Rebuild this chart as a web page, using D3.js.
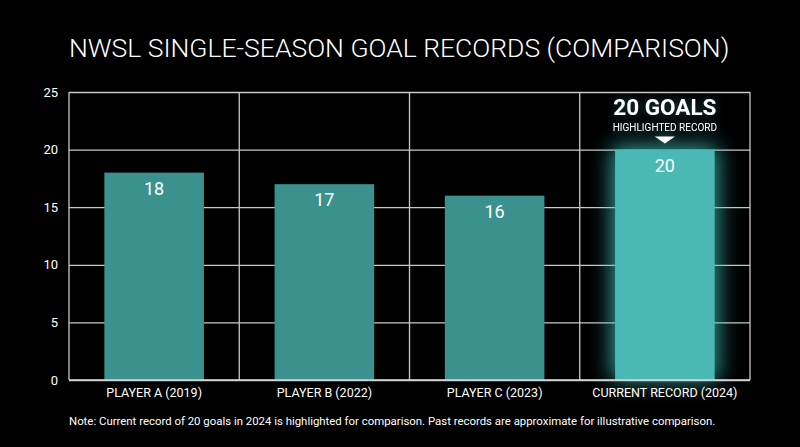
<!DOCTYPE html>
<html>
<head>
<meta charset="utf-8">
<script src="https://cdn.jsdelivr.net/npm/d3@7"></script>
<style>
  html, body { margin: 0; padding: 0; background: #000; }
  svg { display: block; font-family: Roboto, "Liberation Sans", Arial, sans-serif; }
</style>
</head>
<body>
<div class="bar-chart"></div>
<script>
// chart data
const categories = ["PLAYER A (2019)", "PLAYER B (2022)", "PLAYER C (2023)", "CURRENT RECORD (2024)"];
const goals = [18, 17, 16, 20];
const highlighted = ["CURRENT RECORD (2024)"];
const yTicks = [0, 5, 10, 15, 20, 25];
const titleText = "NWSL SINGLE-SEASON GOAL RECORDS (COMPARISON)";
const calloutText = "20 GOALS";
const calloutSub = "HIGHLIGHTED RECORD";
const noteText = "Note: Current record of 20 goals in 2024 is highlighted for comparison. Past records are approximate for illustrative comparison.";

// set the dimensions and margins of the graph
var margin = {top: 92, right: 50, bottom: 67, left: 69},
    width = 800 - margin.left - margin.right,
    height = 447 - margin.top - margin.bottom;

var data = categories.map(function(c, i) { return {cat: c, value: goals[i]}; });

// set the ranges
var x = d3.scaleBand().domain(categories).range([0, width]).paddingInner(0).paddingOuter(0);
var y = d3.scaleLinear().domain([0, 25]).range([height, 0]);
var barW = x.bandwidth() * 0.585;

var root = d3.select(".bar-chart").append("svg")
    .attr("width", 800)
    .attr("height", 447);

root.append("rect").attr("width", 800).attr("height", 447).attr("fill", "#000");

// glow filters
var defs = root.append("defs");
var glow = defs.append("filter").attr("id", "glow")
    .attr("x", "-50%").attr("y", "-30%").attr("width", "200%").attr("height", "160%");
glow.append("feGaussianBlur").attr("in", "SourceGraphic").attr("stdDeviation", 11);

var tglow = defs.append("filter").attr("id", "tglow")
    .attr("x", "-30%").attr("y", "-60%").attr("width", "160%").attr("height", "220%");
tglow.append("feGaussianBlur").attr("in", "SourceAlpha").attr("stdDeviation", 5).attr("result", "a");
tglow.append("feFlood").attr("flood-color", "#2f8f8c").attr("flood-opacity", 0.5);
tglow.append("feComposite").attr("in2", "a").attr("operator", "in").attr("result", "g");
var tm = tglow.append("feMerge");
tm.append("feMergeNode").attr("in", "g");
tm.append("feMergeNode").attr("in", "SourceGraphic");

// title
root.append("text")
    .attr("x", margin.left)
    .attr("y", 57)
    .attr("fill", "#fff")
    .style("font-size", "26.5px")
    .style("font-weight", 300)
    .text(titleText);

var svg = root.append("g")
    .attr("transform", "translate(" + margin.left + "," + margin.top + ")");

// horizontal grid
svg.append("g")
    .attr("class", "y-grid")
    .call(d3.axisLeft(y).tickValues(yTicks).tickSize(-width).tickFormat(""))
    .call(function(g) { g.select(".domain").remove(); })
    .selectAll("line")
    .attr("stroke", "#c8c8c8")
    .attr("stroke-width", 1.3);

// vertical grid at band edges
var edges = categories.map(function(c) { return x(c); }).concat([width]);
svg.append("g").selectAll("line")
    .data(edges)
    .enter().append("line")
    .attr("x1", function(d) { return d; })
    .attr("x2", function(d) { return d; })
    .attr("y1", 0)
    .attr("y2", height)
    .attr("stroke", "#c8c8c8")
    .attr("stroke-width", 1.3);

// glow behind highlighted bar
svg.selectAll(".glowbar")
    .data(data.filter(function(d) { return highlighted.indexOf(d.cat) >= 0; }))
    .enter().append("rect")
    .attr("x", function(d) { return x(d.cat) + (x.bandwidth() - barW) / 2 - 3; })
    .attr("y", function(d) { return y(d.value) - 3; })
    .attr("width", barW + 6)
    .attr("height", function(d) { return height - y(d.value) + 3; })
    .attr("fill", "#3fc9c4")
    .attr("opacity", 0.8)
    .attr("filter", "url(#glow)");

// bars
svg.selectAll(".bar")
    .data(data)
    .enter().append("rect")
    .attr("class", "bar")
    .attr("x", function(d) { return x(d.cat) + (x.bandwidth() - barW) / 2; })
    .attr("y", function(d) { return y(d.value); })
    .attr("width", barW)
    .attr("height", function(d) { return height - y(d.value); })
    .attr("fill", function(d) { return highlighted.indexOf(d.cat) >= 0 ? "#4ab8b5" : "#3b918e"; });

// value labels
svg.selectAll(".val")
    .data(data)
    .enter().append("text")
    .attr("x", function(d) { return x(d.cat) + x.bandwidth() / 2; })
    .attr("y", function(d) { return y(d.value) + 22; })
    .attr("text-anchor", "middle")
    .attr("fill", "#fff")
    .style("font-size", "18px")
    .text(function(d) { return d.value; });

// callout on highlighted bar
data.filter(function(d) { return highlighted.indexOf(d.cat) >= 0; }).forEach(function(d) {
  var cx = x(d.cat) + x.bandwidth() / 2;
  var top = y(d.value);
  var cg = svg.append("g").attr("filter", "url(#tglow)");
  cg.append("text")
      .attr("x", cx)
      .attr("y", top - 35)
      .attr("text-anchor", "middle")
      .attr("fill", "#fff")
      .style("font-size", "22.5px")
      .style("font-weight", "bold")
      .text(calloutText);
  cg.append("text")
      .attr("x", cx)
      .attr("y", top - 19)
      .attr("text-anchor", "middle")
      .attr("fill", "#fff")
      .style("font-size", "10px")
      .text(calloutSub);
  cg.append("path")
      .attr("d", "M" + (cx - 10) + "," + (top - 13) + "L" + (cx + 10) + "," + (top - 13) + "L" + cx + "," + (top - 6) + "Z")
      .attr("fill", "#fff");
});

// Y axis labels
svg.append("g")
    .call(d3.axisLeft(y).tickValues(yTicks).tickSize(0).tickPadding(11))
    .call(function(g) { g.select(".domain").remove(); })
    .selectAll("text")
    .attr("fill", "#fff")
    .style("font-size", "13px")
    .style("font-family", "Roboto, Liberation Sans, Arial, sans-serif");

// X axis labels
svg.append("g")
    .attr("transform", "translate(0," + height + ")")
    .call(d3.axisBottom(x).tickSize(0).tickPadding(8))
    .call(function(g) { g.select(".domain").remove(); })
    .selectAll("text")
    .attr("fill", "#fff")
    .style("font-size", "12.5px")
    .style("font-family", "Roboto, Liberation Sans, Arial, sans-serif");

// bottom line
svg.append("line")
    .attr("x1", 0).attr("x2", width)
    .attr("y1", height).attr("y2", height)
    .attr("stroke", "#d8d8d8")
    .attr("stroke-width", 1.6);

// note
root.append("text")
    .attr("x", margin.left)
    .attr("y", 425)
    .attr("fill", "#fff")
    .style("font-size", "11.4px")
    .text(noteText);
</script>
</body>
</html>
